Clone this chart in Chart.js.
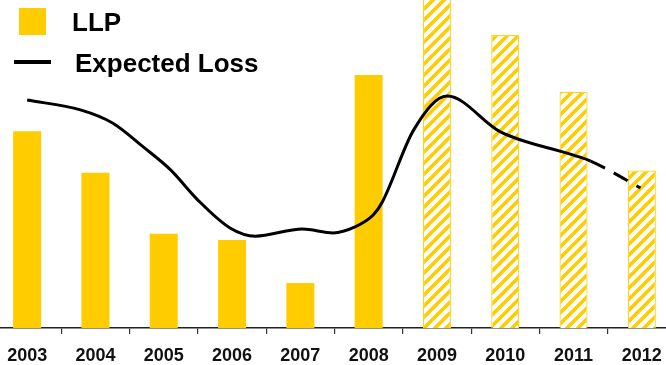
<!DOCTYPE html>
<html>
<head>
<meta charset="utf-8">
<script src="https://cdn.jsdelivr.net/npm/chart.js@4/dist/chart.umd.min.js"></script>
<style>
  html, body { margin: 0; padding: 0; background: #fff; overflow: hidden; }
  #wrap { position: absolute; left: -7px; top: 0; width: 683px; height: 365px; }
</style>
</head>
<body>
<div id="wrap"><canvas id="chart"></canvas></div>
<script>
// Chart data
const years = ['2003', '2004', '2005', '2006', '2007', '2008', '2009', '2010', '2011', '2012'];
const llp = [60, 47.3, 28.7, 26.8, 13.7, 77.1, 104, 89.3, 72, 48];
const forecastFrom = 6; // 2009 onwards drawn hatched

// Expected loss curve (year position, value)
const lossYears = [2003.0, 2003.78, 2004.25, 2004.7, 2005.1, 2005.5, 2005.97, 2006.34, 2007.03, 2007.48, 2007.8, 2008.07, 2008.2, 2008.66, 2009.15, 2009.93, 2011.0, 2011.25, 2011.98];
const lossValues = [69.5, 66.5, 62.5, 55.2, 48.2, 39, 30.5, 28, 30.2, 29, 30.8, 34.5, 38.4, 60.4, 70.7, 59.8, 52.7, 50.9, 42.7];
const dashFrom = 2011.25;

const YELLOW = '#FFCC00';

// Diagonal hatch pattern for forecast bars
function makeHatch() {
  const c = document.createElement('canvas');
  c.width = 11; c.height = 11;
  const g = c.getContext('2d');
  g.fillStyle = '#fff';
  g.fillRect(0, 0, 11, 11);
  g.strokeStyle = YELLOW;
  g.lineWidth = 3.6;
  g.beginPath();
  g.moveTo(-5.5, 5.5); g.lineTo(5.5, -5.5);
  g.moveTo(0, 11); g.lineTo(11, 0);
  g.moveTo(5.5, 16.5); g.lineTo(16.5, 5.5);
  g.stroke();
  return g.createPattern(c, 'repeat');
}
const hatch = makeHatch();

// Legend in the top left corner
const legendPlugin = {
  id: 'cornerLegend',
  afterDraw(chart) {
    const ctx = chart.ctx;
    ctx.save();
    ctx.fillStyle = YELLOW;
    ctx.fillRect(26, 8, 27, 27);
    ctx.strokeStyle = '#000';
    ctx.lineWidth = 4;
    ctx.beginPath();
    ctx.moveTo(21, 62);
    ctx.lineTo(58, 62);
    ctx.stroke();
    ctx.fillStyle = '#000';
    ctx.font = 'bold 26px "Liberation Sans", Arial, sans-serif';
    ctx.textBaseline = 'alphabetic';
    ctx.fillText('LLP', 79, 31);
    ctx.fillText('Expected Loss', 82, 72);
    ctx.restore();
  }
};

new Chart(document.getElementById('chart'), {
  data: {
    labels: years,
    datasets: [
      {
        type: 'line',
        label: 'Expected Loss',
        xAxisID: 'xl',
        data: lossYears.map((x, i) => ({ x, y: lossValues[i] })),
        borderColor: '#000',
        borderWidth: 3,
        pointRadius: 0,
        cubicInterpolationMode: 'monotone',
        segment: {
          borderDash: ctx => ctx.p0.parsed.x >= dashFrom ? [16, 10] : undefined
        },
        order: 0
      },
      {
        type: 'bar',
        label: 'LLP',
        data: llp,
        backgroundColor: llp.map((v, i) => i < forecastFrom ? YELLOW : hatch),
        borderColor: llp.map((v, i) => i < forecastFrom ? YELLOW : '#FFD21F'),
        borderWidth: llp.map((v, i) => i < forecastFrom ? 0 : 1.2),
        grouped: false,
        categoryPercentage: 1,
        barPercentage: 0.41,
        order: 1
      }
    ]
  },
  options: {
    responsive: true,
    maintainAspectRatio: false,
    animation: false,
    layout: { padding: 0 },
    plugins: { legend: { display: false }, tooltip: { enabled: false } },
    scales: {
      x: {
        type: 'category',
        offset: true,
        grid: { display: true, drawOnChartArea: false, offset: true, tickLength: 6, color: '#333', lineWidth: 1.2 },
        border: { display: true, color: '#222', width: 1.5 },
        ticks: {
          color: '#111',
          padding: 11,
          font: { family: '"Liberation Sans", Arial, sans-serif', size: 18, weight: 'bold' }
        },
        afterFit: s => { s.height = 37; }
      },
      xl: { type: 'linear', min: 2002.5, max: 2012.5, display: false },
      y: { display: false, min: 0, max: 100 }
    }
  },
  plugins: [legendPlugin]
});
</script>
</body>
</html>
